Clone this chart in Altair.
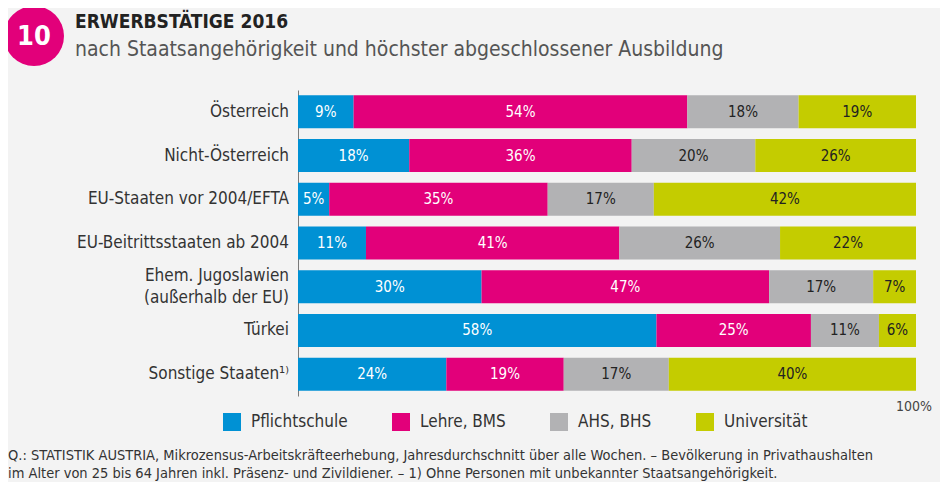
import altair as alt
import pandas as pd

countries = [
    "Österreich",
    "Nicht-Österreich",
    "EU-Staaten vor 2004/EFTA",
    "EU-Beitrittsstaaten ab 2004",
    "Ehem. Jugoslawien|(außerhalb der EU)",
    "Türkei",
    "Sonstige Staaten¹⁾",
]
levels = ["Pflichtschule", "Lehre, BMS", "AHS, BHS", "Universität"]
pflicht = [9, 18, 5, 11, 30, 58, 24]
lehre = [54, 36, 35, 41, 47, 25, 19]
ahs = [18, 20, 17, 26, 17, 11, 17]
uni = [19, 26, 42, 22, 7, 6, 40]
colors = ["#0091d4", "#e2007a", "#b2b2b4", "#c4cc00"]

title_text = "ERWERBSTÄTIGE 2016"
subtitle_text = "nach Staatsangehörigkeit und höchster abgeschlossener Ausbildung"
badge_text = "10"
foot1 = ("Q.: STATISTIK AUSTRIA, Mikrozensus-Arbeitskräfteerhebung, Jahresdurchschnitt über alle Wochen. – "
         "Bevölkerung in Privathaushalten")
foot2 = "im Alter von 25 bis 64 Jahren inkl. Präsenz- und Zivildiener. – 1) Ohne Personen mit unbekannter Staatsangehörigkeit."
axis_end_label = "100%"

FONT = "DejaVu Sans Condensed, Roboto, sans-serif"

rows = []
series = [pflicht, lehre, ahs, uni]
for ci, c in enumerate(countries):
    for li, lv in enumerate(levels):
        rows.append({"country": c, "level": lv, "lvl": li, "v": series[li][ci]})
df = pd.DataFrame(rows)
cdf = pd.DataFrame({"country": countries})

yscale = alt.Scale(domain=countries, paddingInner=0.245, paddingOuter=0.1225)

yenc = alt.Y(
    "country:N",
    sort=countries,
    scale=yscale,
    axis=alt.Axis(
        title=None, domain=True, domainColor="#7a7a7a", domainWidth=1, ticks=False, labels=False,
    ),
)

base = (
    alt.Chart(df)
    .transform_joinaggregate(total="sum(v)", groupby=["country"])
    .transform_calculate(pct="datum.v / datum.total", label="datum.v + '%'")
    .transform_window(cum="sum(pct)", groupby=["country"], sort=[alt.SortField("lvl")], frame=[None, 0])
    .transform_calculate(start="datum.cum - datum.pct", mid="datum.cum - datum.pct / 2")
)

xscale = alt.Scale(domain=[0, 1], nice=False, zero=True)

bars = base.mark_bar(cornerRadius=0).encode(
    y=yenc,
    x=alt.X("start:Q", scale=xscale, axis=None),
    x2="cum:Q",
    color=alt.Color(
        "level:N",
        scale=alt.Scale(domain=levels, range=colors),
        legend=alt.Legend(
            orient="none", legendX=-75, legendY=323, direction="horizontal", columns=4,
            title=None, symbolType="square", symbolSize=324, symbolStrokeWidth=0,
            symbolOpacity=1, labelFont=FONT, labelFontSize=17, labelColor="#333333",
            labelOffset=10, columnPadding=44,
        ),
    ),
)

labels = base.mark_text(font=FONT, fontSize=15).encode(
    y=alt.Y("country:N", sort=countries),
    x=alt.X("mid:Q", scale=xscale),
    text="label:N",
    color=alt.condition("datum.lvl < 2", alt.value("#ffffff"), alt.value("#222222")),
)

cat_single = (
    alt.Chart(cdf)
    .transform_filter("indexof(datum.country, '|') < 0")
    .mark_text(font=FONT, fontSize=17, color="#333333", align="right", baseline="middle")
    .encode(y=alt.Y("country:N", sort=countries), x=alt.value(-9), text="country:N")
)
cat_multi = (
    alt.Chart(cdf)
    .transform_filter("indexof(datum.country, '|') >= 0")
    .transform_calculate(lines="split(datum.country, '|')")
    .mark_text(font=FONT, fontSize=17, color="#333333", align="right", baseline="middle",
               lineHeight=22, dy=-11)
    .encode(y=alt.Y("country:N", sort=countries), x=alt.value(-9), text="lines:N")
)

one = pd.DataFrame({"t": [badge_text]})
badge = alt.Chart(one).mark_point(shape="circle", filled=True, size=3600, color="#e2007a", opacity=1).encode(
    x=alt.value(-264), y=alt.value(-54)
)
badge_t = alt.Chart(one).mark_text(font=FONT, fontSize=27, fontWeight="bold", color="#ffffff").encode(
    x=alt.value(-264), y=alt.value(-53), text="t:N"
)
title = alt.Chart(pd.DataFrame({"t": [title_text]})).mark_text(
    font=FONT, fontSize=19, fontWeight="bold", color="#222222", align="left", baseline="alphabetic"
).encode(x=alt.value(-223), y=alt.value(-62), text="t:N")
subtitle = alt.Chart(pd.DataFrame({"t": [subtitle_text]})).mark_text(
    font=FONT, fontSize=21, color="#555555", align="left", baseline="alphabetic"
).encode(x=alt.value(-223), y=alt.value(-34), text="t:N")
endlab = alt.Chart(pd.DataFrame({"t": [axis_end_label]})).mark_text(
    font=FONT, fontSize=14, color="#444444", align="right", baseline="middle"
).encode(x=alt.value(634), y=alt.value(317), text="t:N")
foot_a = alt.Chart(pd.DataFrame({"t": [foot1]})).mark_text(
    font=FONT, fontSize=14.5, color="#333333", align="left", baseline="alphabetic"
).encode(x=alt.value(-290), y=alt.value(370), text="t:N")
foot_b = alt.Chart(pd.DataFrame({"t": [foot2]})).mark_text(
    font=FONT, fontSize=14.5, color="#333333", align="left", baseline="alphabetic"
).encode(x=alt.value(-290), y=alt.value(388), text="t:N")

chart = (
    alt.layer(bars, labels, cat_single, cat_multi, badge, badge_t, title, subtitle, endlab, foot_a, foot_b)
    .properties(
        width=618, height=306,
        autosize=alt.AutoSizeParams(type="none"),
        padding={"left": 290, "top": 82, "right": 24, "bottom": 86},
        background="#f3f3f3",
    )
    .configure_view(stroke=None)
)

chart.save("out.html", embed_options={"renderer": "svg", "actions": False})
